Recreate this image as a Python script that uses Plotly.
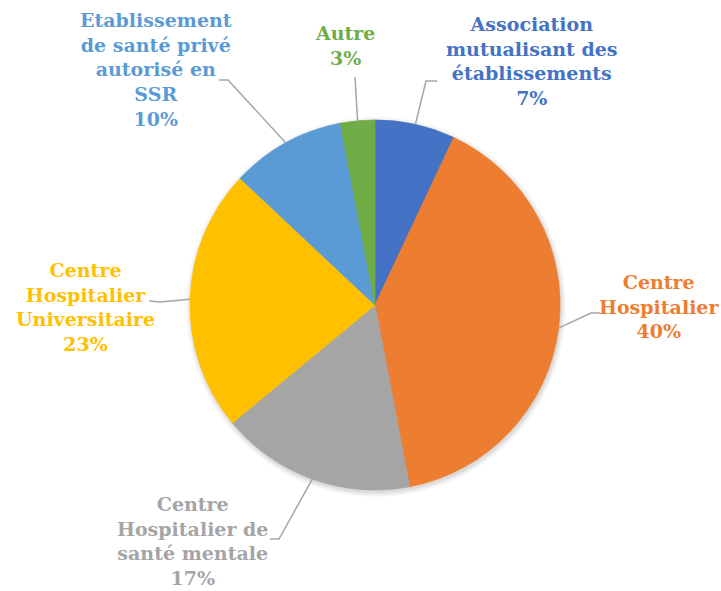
import math
import plotly.graph_objects as go

# ---- data ----
labels = [
    "Association mutualisant des établissements",
    "Centre Hospitalier",
    "Centre Hospitalier de santé mentale",
    "Centre Hospitalier Universitaire",
    "Etablissement de santé privé autorisé en SSR",
    "Autre",
]
label_text = [
    "Association<br>mutualisant des<br>établissements",
    "Centre<br>Hospitalier",
    "Centre<br>Hospitalier de<br>santé mentale",
    "Centre<br>Hospitalier<br>Universitaire",
    "Etablissement<br>de santé privé<br>autorisé en<br>SSR",
    "Autre",
]
values = [7, 40, 17, 23, 10, 3]
colors = ["#4472C4", "#ED7D31", "#A5A5A5", "#FFC000", "#5B9BD5", "#70AD47"]

# ---- layout (pixels) ----
W, H = 721, 591
CX, CY, R = 375, 305, 185
label_pos = [(532, 61), (659, 306), (192, 541), (85, 307), (156, 70), (345, 46)]
elbow_pos = [(426, 81), (591, 313), (279, 539), (160, 302), (228, 80), (355, 77)]
elbow_end = [(437, 81), (600, 313), (270, 539), (149, 301), (219, 80), (355, 77)]

def px(x):
    return x / W

def py(y):
    return 1 - y / H

fig = go.Figure()
fig.add_trace(go.Pie(
    labels=labels, values=values, sort=False, direction="clockwise", rotation=0,
    marker=dict(colors=colors, line=dict(color=colors, width=0.8)),
    textinfo="none", hoverinfo="label+percent", showlegend=False,
    domain=dict(x=[px(CX - R), px(CX + R)], y=[py(CY + R), py(CY - R)]),
))

shapes = []
# soft shadow behind the pie
for k, op in enumerate([0.05, 0.04, 0.03, 0.02]):
    rr = R + 1 + k * 1.5
    sx, sy = CX + 1, CY + 2
    shapes.append(dict(type="circle", xref="paper", yref="paper", layer="below",
                       x0=px(sx - rr), x1=px(sx + rr), y0=py(sy + rr), y1=py(sy - rr),
                       fillcolor=f"rgba(0,0,0,{op})", line=dict(width=0)))

total = sum(values)
cum = 0
annotations = []
for i, v in enumerate(values):
    mid = (cum + v / 2) / total * 2 * math.pi
    cum += v
    ex = CX + R * math.sin(mid)
    ey = CY - R * math.cos(mid)
    bx, by = elbow_pos[i]
    hx, hy = elbow_end[i]
    path = f"M {px(ex)} {py(ey)} L {px(bx)} {py(by)} L {px(hx)} {py(hy)}"
    shapes.append(dict(type="path", xref="paper", yref="paper", path=path,
                       line=dict(color="#A6A6A6", width=1.5)))
    pct = round(v / total * 100)
    lx, ly = label_pos[i]
    annotations.append(dict(
        x=px(lx), y=py(ly), xref="paper", yref="paper", xanchor="center", yanchor="middle",
        text=f"{label_text[i]}<br>{pct}%", showarrow=False, align="center",
        font=dict(family="DejaVu Serif", size=19, color=colors[i], weight="bold"),
    ))

fig.update_layout(
    width=W, height=H, margin=dict(l=0, r=0, t=0, b=0),
    paper_bgcolor="white", plot_bgcolor="white",
    annotations=annotations, shapes=shapes,
)
fig.write_html("out.html", config={"displayModeBar": False},
               post_script="document.body.style.margin='0';")
